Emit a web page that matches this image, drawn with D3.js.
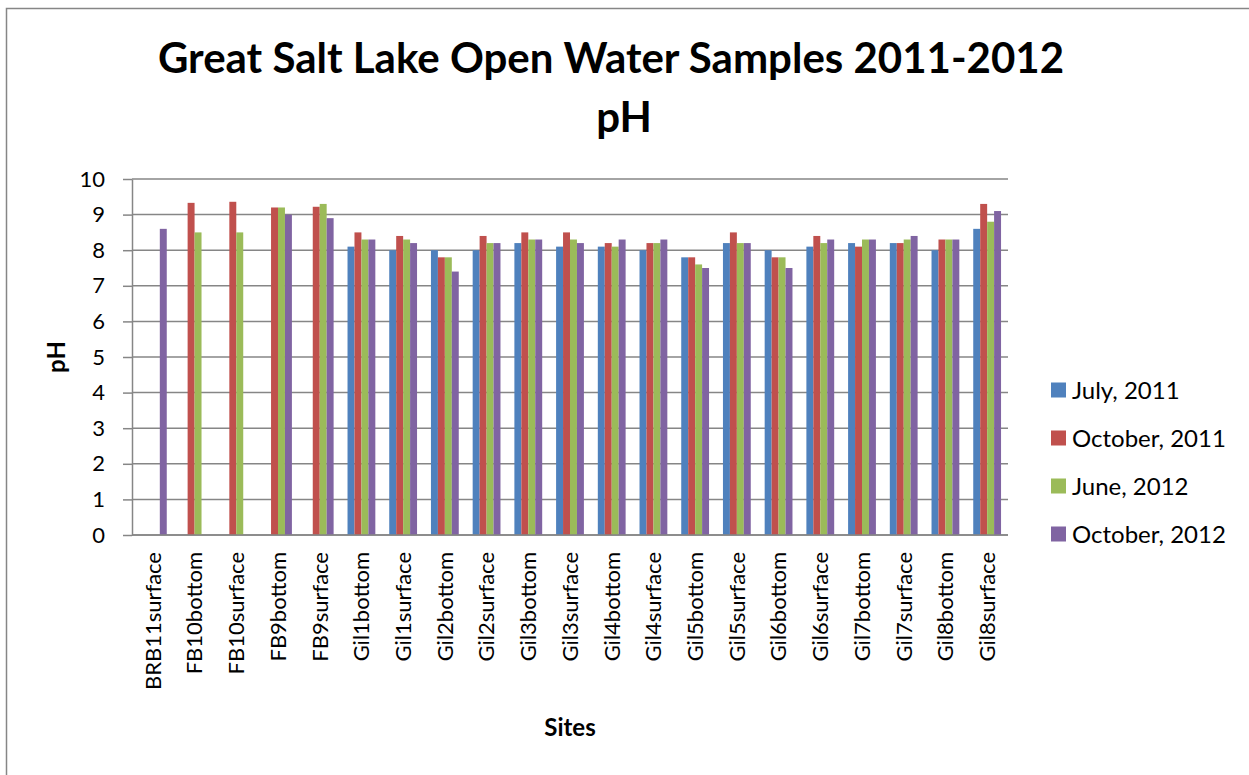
<!DOCTYPE html>
<html>
<head>
<meta charset="utf-8">
<script src="https://cdn.jsdelivr.net/npm/d3@7"></script>
<style>
  body { margin: 0; background: #fff; }
  text { font-family: Lato, "Open Sans", sans-serif; fill: #000; }
</style>
</head>
<body>
<div id="chart"></div>
<script>
// sites along the x axis
var sites = ["BRB11surface", "FB10bottom", "FB10surface", "FB9bottom", "FB9surface",
             "Gil1bottom", "Gil1surface", "Gil2bottom", "Gil2surface", "Gil3bottom",
             "Gil3surface", "Gil4bottom", "Gil4surface", "Gil5bottom", "Gil5surface",
             "Gil6bottom", "Gil6surface", "Gil7bottom", "Gil7surface", "Gil8bottom", "Gil8surface"];

var seriesNames = ["July, 2011", "October, 2011", "June, 2012", "October, 2012"];
var seriesColors = ["#4F81BD", "#C0504D", "#9BBB59", "#8064A2"];

// pH values per sampling campaign (null = not sampled)
var july2011 = [null, null, null, null, null, 8.1, 8.0, 8.0, 8.0, 8.2, 8.1, 8.1, 8.0, 7.8, 8.2, 8.0, 8.1, 8.2, 8.2, 8.0, 8.6];
var oct2011  = [null, 9.33, 9.36, 9.2, 9.22, 8.5, 8.4, 7.8, 8.4, 8.5, 8.5, 8.2, 8.2, 7.8, 8.5, 7.8, 8.4, 8.1, 8.2, 8.3, 9.3];
var june2012 = [null, 8.5, 8.5, 9.2, 9.3, 8.3, 8.3, 7.8, 8.2, 8.3, 8.3, 8.1, 8.2, 7.6, 8.2, 7.8, 8.2, 8.3, 8.3, 8.3, 8.8];
var oct2012  = [8.6, null, null, 9.0, 8.9, 8.3, 8.2, 7.4, 8.2, 8.3, 8.2, 8.3, 8.3, 7.5, 8.2, 7.5, 8.3, 8.3, 8.4, 8.3, 9.1];

var yTicks = [0, 1, 2, 3, 4, 5, 6, 7, 8, 9, 10];

var allSeries = [july2011, oct2011, june2012, oct2012];
var cells = [];
sites.forEach(function(s, i){
    allSeries.forEach(function(arr, j){
        if (arr[i] != null) cells.push({site: s, series: seriesNames[j], value: arr[i]});
    });
});

var width = 1249, height = 775;
var margin = {top: 179, right: 241, bottom: 240, left: 132};

var svg = d3.select("#chart").append("svg")
            .attr("width", width)
            .attr("height", height);

// outer chart frame (runs off the right and bottom edges)
svg.append("rect")
   .attr("x", 6.5).attr("y", 8.5)
   .attr("width", width + 20).attr("height", height + 20)
   .attr("fill", "#fff")
   .attr("stroke", "#868686")
   .attr("stroke-width", 1.5);

var x = d3.scaleBand()
          .domain(sites)
          .range([margin.left, width - margin.right])
          .paddingInner(1/3)
          .paddingOuter(1/6);

var xs = d3.scaleBand()
           .domain(seriesNames)
           .range([0, x.bandwidth()]);

var y = d3.scaleLinear()
          .domain([0, 10])
          .range([height - margin.bottom, margin.top]);

var color = d3.scaleOrdinal().domain(seriesNames).range(seriesColors);

// gridlines
svg.append("g")
   .selectAll("line")
   .data(yTicks)
   .enter().append("line")
   .attr("x1", margin.left)
   .attr("x2", width - margin.right)
   .attr("y1", function(d){ return y(d); })
   .attr("y2", function(d){ return y(d); })
   .attr("stroke", "#868686")
   .attr("stroke-width", 1.5);

// y axis
var yAxis = svg.append("g")
   .attr("transform", "translate(" + margin.left + ",0)")
   .call(d3.axisLeft(y).tickValues(yTicks).tickSize(9).tickPadding(18).tickSizeOuter(0));
yAxis.select(".domain").attr("stroke", "#868686").attr("stroke-width", 1.5);
yAxis.selectAll(".tick line").attr("stroke", "#868686").attr("stroke-width", 1.5);
yAxis.selectAll("text")
     .style("font-family", "Lato, sans-serif")
     .style("font-size", "22px")
     .attr("fill", "#000");

// bars
svg.append("g")
   .selectAll("rect")
   .data(cells)
   .enter().append("rect")
   .attr("x", function(d){ return x(d.site) + xs(d.series); })
   .attr("y", function(d){ return y(d.value); })
   .attr("width", xs.bandwidth())
   .attr("height", function(d){ return y(0) - y(d.value); })
   .attr("fill", function(d){ return color(d.series); });

// x axis line (no ticks)
svg.append("line")
   .attr("x1", margin.left)
   .attr("x2", width - margin.right)
   .attr("y1", y(0))
   .attr("y2", y(0))
   .attr("stroke", "#868686")
   .attr("stroke-width", 1.5);

// rotated site labels
svg.append("g")
   .selectAll("text")
   .data(sites)
   .enter().append("text")
   .attr("transform", function(d){
       return "translate(" + (x(d) + x.bandwidth() / 2) + "," + (y(0) + 17) + ") rotate(-90)";
   })
   .attr("dy", "0.36em")
   .attr("text-anchor", "end")
   .style("font-size", "22px")
   .text(function(d){ return d; });

// title
svg.append("text")
   .attr("x", 611)
   .attr("y", 73)
   .attr("text-anchor", "middle")
   .style("font-size", "42px")
   .style("font-weight", "bold")
   .text("Great Salt Lake Open Water Samples 2011-2012");
svg.append("text")
   .attr("x", 624)
   .attr("y", 132)
   .attr("text-anchor", "middle")
   .style("font-size", "42px")
   .style("font-weight", "bold")
   .text("pH");

// axis titles
svg.append("text")
   .attr("transform", "translate(65," + ((y(0) + y(10)) / 2) + ") rotate(-90)")
   .attr("text-anchor", "middle")
   .style("font-size", "24px")
   .style("font-weight", "bold")
   .text("pH");

svg.append("text")
   .attr("x", 570)
   .attr("y", 736)
   .attr("text-anchor", "middle")
   .style("font-size", "24px")
   .style("font-weight", "bold")
   .text("Sites");

// legend
var legend = svg.append("g")
   .selectAll("g")
   .data(seriesNames)
   .enter().append("g")
   .attr("transform", function(d, i){ return "translate(1051," + (390 + i * 48) + ")"; });
legend.append("rect")
   .attr("x", 0).attr("y", -7.5)
   .attr("width", 15).attr("height", 15)
   .attr("fill", function(d){ return color(d); });
legend.append("text")
   .attr("x", 21)
   .attr("dy", "0.36em")
   .style("font-size", "24px")
   .text(function(d){ return d; });
</script>
</body>
</html>
